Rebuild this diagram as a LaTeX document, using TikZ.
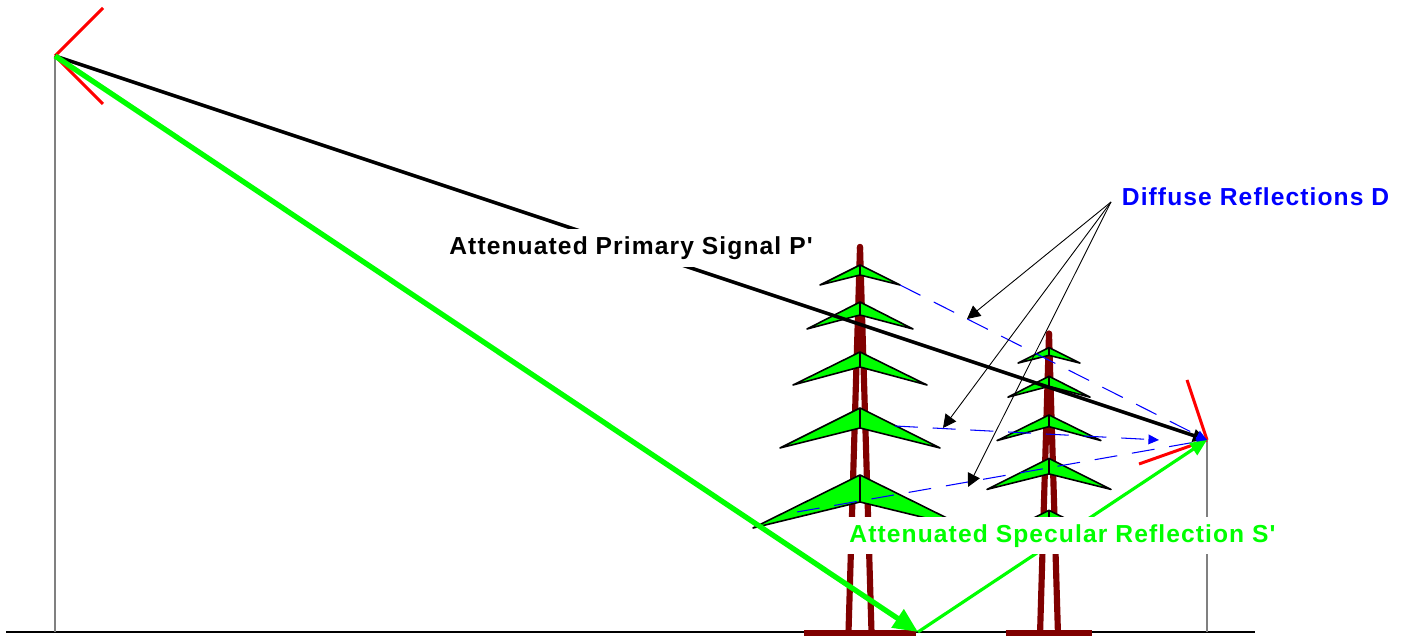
\documentclass[tikz,border=0pt]{standalone}
\usepackage{fontspec}
\usetikzlibrary{arrows.meta,positioning}
\newfontfamily\tagfont{Liberation Sans}[LetterSpace=4.5]
\definecolor{pylonred}{RGB}{128,0,0}

% one lattice pylon, origin at the foot, arms as green chevrons
\tikzset{
  leg/.style={draw=pylonred, line width=3.5pt, line cap=round},
  arm/.style={fill=green, draw=black, line width=0.9pt, line join=round},
  pylon/.pic={
    \draw[leg] (0,385) -- (-11.5,0);
    \draw[leg] (0,385) -- (11.5,0);
    \draw[leg, line cap=butt] (-56,-1) -- (56,-1);
    \foreach \y/\w/\h/\d in {367/40/20/10, 330/53/27/13, 280/67/33/15, 224/80/40/20, 157/107/53/27} {
      \filldraw[arm] (0,\y) -- (-\w,\y-\h) -- (0,\y-\d) -- (\w,\y-\h) -- cycle;
      \draw[arm] (0,\y) -- (0,\y-\d);
    }
  }
}

\begin{document}
\begin{tikzpicture}[x=0.2mm, y=0.2mm,
    mast/.style={draw=gray, line width=1.2pt},
    antenna/.style={draw=red, line width=1.7pt},
    primary/.style={line width=2pt, -{Triangle[length=8pt, width=7pt]}},
    diffuse/.style={draw=blue, line width=0.6pt, dash pattern=on 13pt off 8.5pt,
      -{Triangle[length=6pt, width=5.5pt]}},
    callout/.style={line width=0.5pt, -{Triangle[length=7.5pt, width=7.5pt]}},
    tag/.style={fill=white, inner sep=4pt,
      font=\tagfont\bfseries\fontsize{14}{16}\selectfont},
  ]
  \useasboundingbox (0,-4) rectangle (1403,632);

  % end points of the paths
  \coordinate (tx) at (55,576);
  \coordinate (rx) at (1207,192);
  \coordinate (spec) at (918,0);
  \coordinate (hub) at (1111,430);
  \coordinate (scatA) at (900,347);
  \coordinate (scatB) at (895,206);
  \coordinate (scatC) at (797,120);
  \coordinate (endB) at (1159,192);
  \coordinate (hitA) at (967,313);
  \coordinate (hitB) at (943,204);
  \coordinate (hitC) at (968,145);

  % ground and masts
  \draw[line width=1.1pt] (6,0) -- (1255,0);
  \draw[mast] (tx) -- (tx |- 0,0);
  \draw[mast] (rx) -- (rx |- 0,0);

  \pic at (860,0) {pylon};
  \pic[scale=0.775] at (1049,0) {pylon};

  % antennas
  \draw[antenna] (tx) -- ++(48,48);
  \draw[antenna] (tx) -- ++(48,-48);
  \draw[antenna] (rx) -- ++(-20,60);
  \draw[antenna] (rx) -- ++(-68,-24);

  \draw[primary] (tx) -- (rx) node[tag, midway] (primlabel) {Attenuated Primary Signal P'};

  \draw[diffuse] (scatA) -- (rx);
  \draw[diffuse] (scatB) -- (endB);
  \draw[diffuse] (scatC) -- (rx);

  \node[tag, text=blue, right=2pt of hub, yshift=3pt] (difflabel) {Diffuse Reflections D};
  \draw[callout] (hub) -- (hitA);
  \draw[callout] (hub) -- (hitB);
  \draw[callout] (hub) -- (hitC);

  \draw[green, line width=3pt, -{Triangle[length=14pt, width=12pt]}] (tx) -- (spec);
  \draw[green, line width=1.8pt, -{Triangle[length=9.5pt, width=8pt]}] (spec) -- (rx)
    node[tag, text=green, midway] (speclabel) {Attenuated Specular Reflection S'};
\end{tikzpicture}
\end{document}
